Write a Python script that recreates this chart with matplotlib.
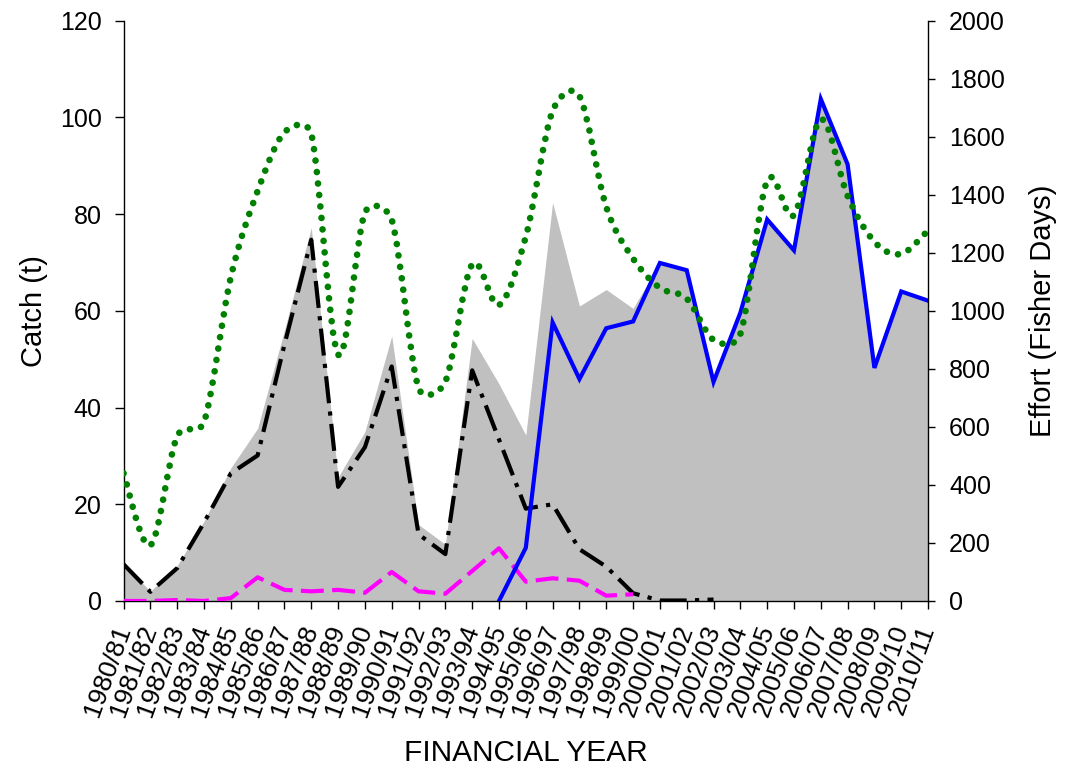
import numpy as np
import matplotlib
matplotlib.use("Agg")
import matplotlib.pyplot as plt
from matplotlib.path import Path
from matplotlib.patches import PathPatch
from matplotlib.transforms import ScaledTranslation

plt.rcParams['font.family'] = ['Liberation Sans', 'DejaVu Sans']

# Financial years
years = ["1980/81", "1981/82", "1982/83", "1983/84", "1984/85", "1985/86",
         "1986/87", "1987/88", "1988/89", "1989/90", "1990/91", "1991/92",
         "1992/93", "1993/94", "1994/95", "1995/96", "1996/97", "1997/98",
         "1998/99", "1999/00", "2000/01", "2001/02", "2002/03", "2003/04",
         "2004/05", "2005/06", "2006/07", "2007/08", "2008/09", "2009/10",
         "2010/11"]

# Total catch (t) - shaded area
total_catch = [7.7, 2.0, 7.3, 16.5, 27.5, 35.7, 56.0, 77.2, 25.6, 35.0,
               54.8, 15.8, 11.7, 54.3, 44.9, 34.3, 82.4, 61.0, 64.4, 60.5,
               70.0, 68.5, 45.6, 59.6, 78.9, 72.5, 103.8, 90.3, 48.2, 64.0,
               62.1]

# Catch (t) by method - black dash-dot
catch_black = [7.6, 1.9, 6.8, 16.2, 26.4, 30.1, 53.0, 74.7, 23.6, 31.8,
               48.5, 13.8, 9.7, 47.7, 33.4, 19.1, 20.0, 10.7, 7.1, 1.6,
               0.1, 0.1, 0.3] + [np.nan] * 8

# Catch (t) by method - magenta dashed
catch_magenta = [0.0, 0.0, 0.2, 0.0, 0.6, 4.9, 2.3, 2.0, 2.3, 1.7,
                 6.0, 2.0, 1.5, 6.2, 10.9, 4.0, 4.7, 4.2, 1.1, 1.4] + [np.nan] * 11

# Catch (t) by method - blue solid
catch_blue = [np.nan] * 14 + [0.0, 11.0, 57.6, 45.9, 56.4, 57.8, 69.9, 68.4,
                              45.3, 59.6, 78.9, 72.5, 103.8, 90.3, 48.2,
                              64.0, 62.1]

# Effort (fisher days) - green dotted, right axis
effort = [440, 192, 568, 617, 1116, 1413, 1615, 1610, 850, 1338,
          1314, 734, 756, 1160, 1020, 1256, 1689, 1740, 1358, 1180,
          1079, 1042, 900, 920, 1448, 1330, 1660, 1396, 1238, 1196,
          1277]

n = len(years)
x = np.arange(n)

fig = plt.figure(figsize=(10.66, 7.71), dpi=100)
ax = fig.add_axes([0.1159, 0.2205, 0.7547, 0.7527])

ax.fill_between(x, 0, total_catch, color='#C0C0C0', linewidth=0, zorder=1)
ax.plot(x, catch_black, color='black', linewidth=3.0,
        linestyle=(0, (6.5, 2, 1, 2)), zorder=3)
ax.plot(x, catch_magenta, color='#FF00FF', linewidth=3.0,
        linestyle=(0, (5.5, 2)), zorder=3)
ax.plot(x, catch_blue, color='#0000FF', linewidth=3.0, zorder=4,
        solid_joinstyle='miter')

ax.set_xlim(0, n - 1)
ax.set_ylim(0, 120)
ax.set_yticks(np.arange(0, 121, 20))
ax.set_xticks(x)
ax.set_xticklabels(years, rotation=70, ha='right', va='center',
                   rotation_mode='anchor')
shift = ScaledTranslation(10 / 100, 0, fig.dpi_scale_trans)
for lbl in ax.get_xticklabels():
    lbl.set_transform(lbl.get_transform() + shift)

ax2 = ax.twinx()
ax2.set_ylim(0, 2000)
ax2.set_yticks(np.arange(0, 2001, 200))


def smooth_path(axes, xs, ys):
    """Bezier smoothing in screen space, control arms capped at half a segment."""
    to_px = axes.transData
    P = to_px.transform(np.column_stack([xs, ys]).astype(float))
    m = len(P)
    verts = [P[0]]
    codes = [Path.MOVETO]
    for i in range(m - 1):
        p0 = P[i - 1] if i > 0 else P[i]
        p1, p2 = P[i], P[i + 1]
        p3 = P[i + 2] if i + 2 < m else P[i + 1]
        d12 = np.hypot(*(p2 - p1))
        t1 = p2 - p0
        t2 = p3 - p1
        d02 = np.hypot(*t1)
        d13 = np.hypot(*t2)
        a1 = t1 / 6.0
        if d02 / 6.0 > d12 / 2.0 and d02 > 0:
            a1 = t1 * (d12 / 2.0) / d02
        a2 = t2 / 6.0
        if d13 / 6.0 > d12 / 2.0 and d13 > 0:
            a2 = t2 * (d12 / 2.0) / d13
        verts += [p1 + a1, p2 - a2, p2]
        codes += [Path.CURVE4] * 3
    data_verts = to_px.inverted().transform(np.array(verts))
    return Path(data_verts, codes)


ax2.add_patch(PathPatch(smooth_path(ax2, x, effort), fill=False,
                        edgecolor='#008000', linewidth=4.8,
                        linestyle=(0, (0.01, 1.72)), capstyle='round',
                        zorder=5))

for a in (ax, ax2):
    a.spines['top'].set_visible(False)
ax.spines['right'].set_visible(False)
ax2.spines['left'].set_visible(False)
ax2.spines['bottom'].set_visible(False)
for s in ('left', 'bottom'):
    ax.spines[s].set_linewidth(1.0)
ax2.spines['right'].set_linewidth(1.0)

ax.tick_params(axis='y', direction='out', length=6.5, width=1.0,
               labelsize=18, pad=9.3)
ax.tick_params(axis='x', direction='out', length=6, width=1.0,
               labelsize=19, pad=12)
ax2.tick_params(axis='y', direction='out', length=5, width=1.0,
                labelsize=18, pad=10)

ax.set_ylabel('Catch (t)', fontsize=21)
ax.yaxis.set_label_coords(-0.094, 0.5)
ax2.set_ylabel('Effort (Fisher Days)', fontsize=21)
ax2.yaxis.set_label_coords(1.1255, 0.5)
ax.set_xlabel('FINANCIAL YEAR', fontsize=21.5)
ax.xaxis.set_label_coords(0.5, -0.2386)

fig.savefig('out.png', dpi=100)
